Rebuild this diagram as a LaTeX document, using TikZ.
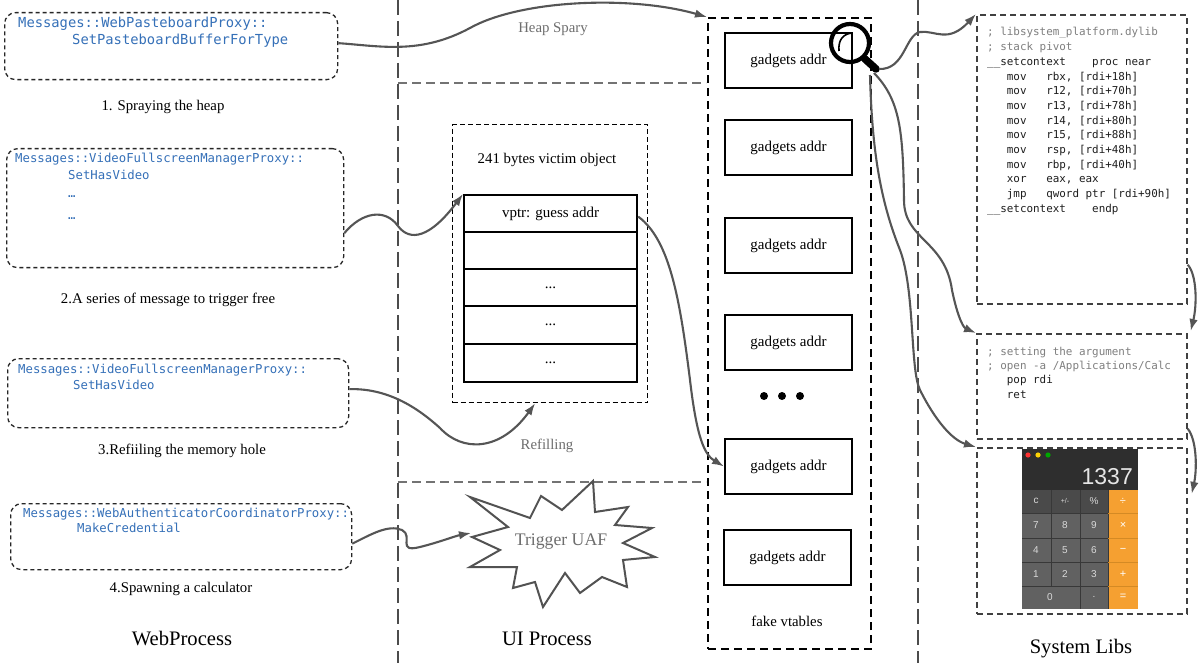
\documentclass[tikz,border=0pt]{standalone}
\usepackage{fontspec}
\setmainfont{Liberation Serif}
\newfontfamily\msgfont{DejaVu Sans Mono}
\newfontfamily\calcfont{Liberation Sans}
\usetikzlibrary{arrows.meta,calc}
\definecolor{msgblue}{HTML}{3570B8}
\definecolor{connc}{HTML}{555555}
\definecolor{lblgray}{HTML}{6E6E6E}
\definecolor{cmtgray}{HTML}{7F7F7F}
\definecolor{codeblk}{HTML}{1E1E1E}
\definecolor{calcbg}{HTML}{2E2E2E}
\definecolor{calckey}{HTML}{616161}
\definecolor{calcfn}{HTML}{4A4A4A}
\definecolor{calcor}{HTML}{F5A031}
\definecolor{calcline}{HTML}{383838}
\definecolor{calcorline}{HTML}{D48A24}
\begin{document}
\begin{tikzpicture}[x=1pt,y=-1pt,
  msgbox/.style={draw=black!85, line width=1.3pt, dash pattern=on 4pt off 3pt, rounded corners=11pt, inner sep=0, anchor=north west},
  msgtxt/.style={anchor=base west, inner sep=0, text=msgblue},
  lbl/.style={inner sep=0, anchor=base, font=\fontsize{14.8}{17}\selectfont},
  ttl/.style={inner sep=0, anchor=base, font=\fontsize{20.6}{24}\selectfont},
  vdiv/.style={draw=black!70, line width=2pt, dash pattern=on 15pt off 6pt},
  hdiv/.style={draw=black!55, line width=1.6pt, dash pattern=on 9pt off 5pt},
  memcell/.style={draw=black, line width=2.2pt, minimum width=173pt, inner sep=0, anchor=north west, font=\fontsize{15}{18}\selectfont},
  gadget/.style={draw=black, line width=2pt, minimum width=127pt, minimum height=55pt, inner sep=0, anchor=north west, font=\fontsize{15}{18}\selectfont},
  sysbox/.style={draw=black!75, line width=1.7pt, dash pattern=on 6pt off 4pt, inner sep=0, anchor=north west, minimum width=210pt},
  asmtxt/.style={anchor=base west, inner sep=0, font=\msgfont\fontsize{10.9}{13}\selectfont},
  conline/.style={draw=connc, line width=2.1pt, -{Latex[length=12pt,width=8.5pt]}},
  keytxt/.style={inner sep=0, text=white!85!black, font=\calcfont\fontsize{10}{12}\selectfont},
  optxt/.style={inner sep=0, text=white, font=\calcfont\fontsize{11}{12}\selectfont},
]
\useasboundingbox (0,0) rectangle (1200,663);
\fill[white] (0,0) rectangle (1200,663);

% dividers
\draw[vdiv] (398,0) -- (398,663);
\draw[vdiv] (918,0) -- (918,663);
\draw[hdiv] (398,83) -- (706,83);
\draw[hdiv] (398,482) -- (706,482);

% WebProcess
\node[msgbox, minimum width=333pt, minimum height=67pt] (m1) at (4,12) {};
\node[msgtxt, font=\msgfont\fontsize{13.8}{16}\selectfont] (m1a) at (18,28) {Messages::WebPasteboardProxy::};
\node[msgtxt, font=\msgfont\fontsize{13.8}{16}\selectfont] (m1b) at (72,45) {SetPasteboardBufferForType};
\node[lbl] (l1) at (163,111) {1. Spraying the heap};

\node[msgbox, minimum width=337pt, minimum height=119pt] (m2) at (6,148) {};
\node[msgtxt, font=\msgfont\fontsize{12.3}{14}\selectfont] (m2a) at (15,163) {Messages::VideoFullscreenManagerProxy::};
\node[msgtxt, font=\msgfont\fontsize{12.3}{14}\selectfont] (m2b) at (68,180) {SetHasVideo};
\node[msgtxt, font=\msgfont\fontsize{12.3}{14}\selectfont] (m2c) at (68,198) {…};
\node[msgtxt, font=\msgfont\fontsize{12.3}{14}\selectfont] (m2d) at (68,220) {…};
\node[lbl] (l2) at (168,303) {2.A series of message to trigger free};

\node[msgbox, minimum width=341pt, minimum height=69pt] (m3) at (7,358) {};
\node[msgtxt, font=\msgfont\fontsize{12.3}{14}\selectfont] (m3a) at (18,373) {Messages::VideoFullscreenManagerProxy::};
\node[msgtxt, font=\msgfont\fontsize{12.3}{14}\selectfont] (m3b) at (73,389) {SetHasVideo};
\node[lbl] (l3) at (182,454) {3.Refiiling the memory hole};

\node[msgbox, minimum width=341pt, minimum height=66pt] (m4) at (10,503) {};
\node[msgtxt, font=\msgfont\fontsize{12.3}{14}\selectfont] (m4a) at (23,517) {Messages::WebAuthenticatorCoordinatorProxy::};
\node[msgtxt, font=\msgfont\fontsize{12.3}{14}\selectfont] (m4b) at (77,532) {MakeCredential};
\node[lbl] (l4) at (181,592) {4.Spawning a calculator};

\node[ttl] (t1) at (182,645) {WebProcess};

% UI process
\node[lbl, text=lblgray] (hs) at (553,33) {Heap Spary};
\node[draw=black, line width=1.3pt, dash pattern=on 5pt off 3pt, inner sep=0, anchor=north west, minimum width=195pt, minimum height=278pt] (vo) at (452,124) {};
\node[lbl] (vot) at (547,164) {241 bytes victim object};
\node[memcell, minimum height=37pt] (c1) at (463,194) {vptr: guess addr};
\node[memcell, minimum height=37pt] (c2) at (463,231) {};
\node[memcell, minimum height=37pt] (c3) at (463,268) {...};
\node[memcell, minimum height=38pt] (c4) at (463,305) {...};
\node[memcell, minimum height=38pt] (c5) at (463,343) {...};
\node[lbl, text=lblgray] (rf) at (547,449) {Refilling};

\draw[draw=black!68, line width=2pt, fill=white, line join=miter, miter limit=20]
  (470,497) -- (530,518) -- (541,496) -- (562,510) -- (593,481) -- (595,512) -- (628,507)
  -- (615,525) -- (652,528) -- (623,543) -- (655,557) -- (623,560) -- (627,587) -- (602,577)
  -- (580,593) -- (565,573) -- (543,607) -- (535,582) -- (513,588) -- (517,567) -- (470,567)
  -- (500,550) -- (472,537) -- (508,527) -- cycle;
\node[inner sep=0, anchor=base, text=lblgray, font=\fontsize{17.7}{20}\selectfont] (uaf) at (561,545) {Trigger UAF};
\coordinate (uaftip) at (471,533);
\node[ttl] (t2) at (547,645) {UI Process};

% fake vtables
\node[draw=black, line width=2.2pt, dash pattern=on 8pt off 5pt, inner sep=0, anchor=north west, minimum width=163pt, minimum height=631pt] (fv) at (707,17) {};
\node[gadget] (g1) at (724,32) {gadgets addr};
\node[gadget] (g2) at (724,119) {gadgets addr};
\node[gadget] (g3) at (724,217) {gadgets addr};
\node[gadget] (g4) at (724,314) {gadgets addr};
\node[gadget] (g5) at (724,438) {gadgets addr};
\node[gadget] (g6) at (723,529) {gadgets addr};
\fill (764,396) circle (4pt) (782,396) circle (4pt) (800,396) circle (4pt);
\node[lbl] (fvt) at (787,626) {fake vtables};

% magnifier
\draw[line width=4.2pt] (850,43) circle (19pt);
\draw[line width=1.6pt] (839,51) .. controls (838,40) and (843,34) .. (852,33);
\draw[line width=7.5pt, line cap=round] (865,59) -- (876,69);
\coordinate (hndl) at (879,69);
\coordinate (hndlb) at (874,73);
\coordinate (hndlc) at (870,75);

% System libs
\node[sysbox, minimum height=289pt] (sysA) at (976,14) {};
\node[sysbox, minimum height=105pt] (sysB) at (976,333) {};
\node[sysbox, minimum height=166pt] (sysC) at (976,447) {};
\foreach \t [count=\i from 0] in {
  {\color{cmtgray}; libsystem\_platform.dylib},
  {\color{cmtgray}; stack pivot},
  {\color{codeblk}\_\_setcontext~~~~proc near},
  {\color{codeblk}~~~mov~~~rbx, [rdi+18h]},
  {\color{codeblk}~~~mov~~~r12, [rdi+70h]},
  {\color{codeblk}~~~mov~~~r13, [rdi+78h]},
  {\color{codeblk}~~~mov~~~r14, [rdi+80h]},
  {\color{codeblk}~~~mov~~~r15, [rdi+88h]},
  {\color{codeblk}~~~mov~~~rsp, [rdi+48h]},
  {\color{codeblk}~~~mov~~~rbp, [rdi+40h]},
  {\color{codeblk}~~~xor~~~eax, eax},
  {\color{codeblk}~~~jmp~~~qword ptr [rdi+90h]},
  {\color{codeblk}\_\_setcontext~~~~endp}}
  \node[asmtxt] (sa\i) at (987,{36+14.7*\i}) {\t};
\foreach \t [count=\i from 0] in {
  {\color{cmtgray}; setting the argument},
  {\color{cmtgray}; open -a /Applications/Calc},
  {\color{codeblk}~~~pop rdi},
  {\color{codeblk}~~~ret}}
  \node[asmtxt] (sb\i) at (987,{355+14.4*\i}) {\t};

% calculator
\fill[calcbg] (1022,449) rectangle (1138,490);
\fill[calcfn] (1022,490) rectangle (1108,513);
\fill[calckey] (1022,513) rectangle (1108,609);
\fill[calcor] (1108,490) rectangle (1138,609);
\draw[calcline, line width=0.8pt] (1022,513) -- (1108,513) (1022,538) -- (1108,538)
  (1022,562) -- (1108,562) (1022,586) -- (1108,586) (1051,490) -- (1051,586)
  (1080,490) -- (1080,609) (1108,490) -- (1108,609);
\draw[calcorline, line width=0.8pt] (1108,513) -- (1138,513) (1108,538) -- (1138,538)
  (1108,562) -- (1138,562) (1108,586) -- (1138,586);
\fill[red!80!white] (1028,455) circle (2.6pt);
\fill[yellow!70!orange] (1038,455) circle (2.6pt);
\fill[green!65!black] (1048,455) circle (2.6pt);
\node[anchor=base east, inner sep=0, text=white!90!black, font=\calcfont\fontsize{23}{26}\selectfont] (disp) at (1133,484) {1337};
\node[keytxt] (kc) at (1036,501) {c};
\node[keytxt, font=\calcfont\fontsize{7}{8}\selectfont] (kpm) at (1065,501) {+/-};
\node[keytxt] (kpc) at (1094,501) {\%};
\node[optxt] (kdiv) at (1123,501) {÷};
\node[keytxt] (k7) at (1036,525) {7};
\node[keytxt] (k8) at (1065,525) {8};
\node[keytxt] (k9) at (1094,525) {9};
\node[optxt] (kmul) at (1123,525) {×};
\node[keytxt] (k4) at (1036,550) {4};
\node[keytxt] (k5) at (1065,550) {5};
\node[keytxt] (k6) at (1094,550) {6};
\node[optxt] (kmin) at (1123,550) {−};
\node[keytxt] (k1) at (1036,574) {1};
\node[keytxt] (k2) at (1065,574) {2};
\node[keytxt] (k3) at (1094,574) {3};
\node[optxt] (kplus) at (1123,574) {+};
\node[keytxt] (k0) at (1050,597) {0};
\node[keytxt] (kdot) at (1094,597) {.};
\node[optxt] (keq) at (1123,597) {=};

\node[ttl] (t3) at (1081,653) {System Libs};

% connectors
\draw[conline] ([yshift=3pt]m1.east) .. controls (380,46) and (420,55) .. (470,28) .. controls (520,0) and (630,-5) .. (fv.north west);
\draw[conline] ([yshift=-25pt]m2.east) .. controls (362,212) and (385,208) .. (398,226) .. controls (410,242) and (430,238) .. (c1.north west);
\draw[conline] ([yshift=4pt]m3.east) .. controls (390,388) and (420,410) .. (440,428) .. controls (462,452) and (500,452) .. ([xshift=-15pt]vo.south);
\draw[conline] ([yshift=-7pt]m4.east) .. controls (370,535) and (388,524) .. (402,530) .. controls (414,536) and (396,553) .. (420,547) .. controls (440,542) and (455,536) .. (uaftip);
\draw[conline] ([yshift=-3pt]c1.east) .. controls (670,240) and (680,300) .. (690,380) .. controls (697,440) and (705,455) .. (g5.west);
\draw[conline] (hndl) .. controls (905,70) and (905,35) .. (920,32) .. controls (935,30) and (948,44) .. (sysA.north west);
\draw[conline] (hndlb) .. controls (900,100) and (903,130) .. (904,200) .. controls (904,240) and (945,240) .. (952,290) .. controls (956,310) and (962,327) .. (sysB.north west);
\draw[conline] (hndlc) .. controls (872,150) and (880,200) .. (900,250) .. controls (915,290) and (910,370) .. (920,390) .. controls (935,420) and (952,440) .. (sysC.north west);
\draw[conline] ([yshift=40pt]sysA.south east) .. controls (1197,275) and (1197,305) .. ([xshift=3pt,yshift=2pt]sysB.north east);
\draw[conline] ([yshift=11pt]sysB.south east) .. controls (1197,440) and (1197,470) .. ([xshift=4pt,yshift=37pt]sysC.east);
\end{tikzpicture}
\end{document}
